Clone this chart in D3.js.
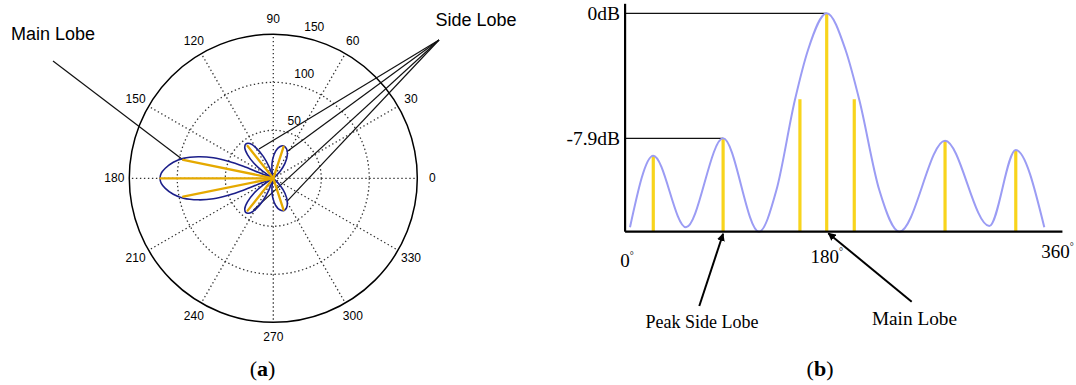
<!DOCTYPE html>
<html>
<head>
<meta charset="utf-8">
<script src="https://cdn.jsdelivr.net/npm/d3@7"></script>
<style>
  body { margin: 0; background: #fff; }
  svg { display: block; }
</style>
</head>
<body>
<svg id="chart" width="1076" height="385"></svg>
<script>
// ---------- (a) polar pattern : [angle in degrees, radius 0..150]
const ringValues = [50, 100, 150];
const spokeAngles = [0, 30, 60, 90, 120, 150, 180, 210, 240, 270, 300, 330];
const radialLabels = [50, 100, 150];

const mainLobe = [[158, 0], [158.2, 16.9], [158.2, 33.6], [159.3, 50.1], [161.1, 66], [164, 81.3],
  [167.5, 96], [170.9, 105.5], [174.7, 113], [177.4, 116.8], [180, 118], [182.6, 116.8],
  [185.3, 113], [189.1, 105.5], [192.5, 96], [196, 81.3], [198.9, 66], [200.7, 50.1],
  [201.8, 33.6], [201.8, 16.9], [202, 0]];
const lobeUpperLeft = [[106.5, 0], [110.5, 12.9], [114.5, 24.8], [119.5, 36.5], [124, 43.6], [128.5, 45.8],
  [133, 43.6], [137.5, 36.5], [142.5, 24.8], [146.5, 12.9], [150.5, 0]];
const lobeLowerLeft = [[209.5, 0], [213.5, 12.9], [217.5, 24.8], [222.5, 36.5], [227, 43.6], [231.5, 45.8],
  [236, 43.6], [240.5, 36.5], [245.5, 24.8], [249.5, 12.9], [253.5, 0]];
const lobeUpperRight = [[40, 0], [46, 10.3], [52, 19.7], [59, 28.4], [65.5, 33.5], [72, 35.4],
  [78.5, 33.5], [85, 28.4], [92, 19.7], [98, 10.3], [104, 0]];
const lobeLowerRight = [[256, 0], [262, 10.3], [268, 19.7], [275, 28.4], [281.5, 33.5], [288, 35.4],
  [294.5, 33.5], [301, 28.4], [308, 19.7], [314, 10.3], [320, 0]];

const mainSpokes = [[168.5, 95.8], [180, 117.7], [191.5, 95.8]];
const sideSpokes = [[128.5, 43], [72, 34.5], [231.5, 43], [288, 34.5]];
const sideLobeTargets = [[116, 34], [63, 31], [238, 39], [300, 28]];

// ---------- (b) linear pattern : angle (deg) vs level (dB)
const patternDeg = [0, 21.3, 51.2, 85.2, 118, 134, 150.9, 162.9, 180, 195.6, 207, 223.5, 240.1, 277.9, 314.5, 336.4, 360];
const patternDb  = [-13.52, -9.0, -13.52, -7.9, -13.8, -11.17, -5.48, -2.32, 0, -2.32, -5.48, -11.17, -13.8, -8.05, -13.44, -8.64, -13.52];
const barDeg = [21.3, 85.2, 155.5, 180, 202.8, 277.9, 336.4];
const barDb  = [-9.0, -7.9, -5.43, 0, -5.43, -8.05, -8.64];
const xTicks = [0, 180, 360];
const levelTicks = [0, -7.9];
const levelPeakDeg = [180, 85.2];

const svg = d3.select("#chart");

// ================= (a) =================
const cx = 273.3, cy = 178.3;
const r = d3.scaleLinear().domain([0, 150]).range([0, 144]);
const rad = a => a * Math.PI / 180;
const px = (a, v) => cx + r(v) * Math.cos(rad(a));
const py = (a, v) => cy - r(v) * Math.sin(rad(a));

const polar = svg.append("g").attr("class", "polar");

polar.selectAll(".ring")
  .data(ringValues)
  .enter().append("circle")
    .attr("cx", cx).attr("cy", cy)
    .attr("r", d => r(d))
    .attr("fill", "none")
    .attr("stroke", d => d === 150 ? "#000" : "#333")
    .attr("stroke-width", d => d === 150 ? 1.5 : 1.3)
    .attr("stroke-dasharray", d => d === 150 ? null : "1.4 2.6");

polar.selectAll(".spoke")
  .data(spokeAngles)
  .enter().append("line")
    .attr("x1", cx).attr("y1", cy)
    .attr("x2", d => px(d, 150)).attr("y2", d => py(d, 150))
    .attr("stroke", "#333")
    .attr("stroke-width", 1.3)
    .attr("stroke-dasharray", "1.4 2.6");

polar.selectAll(".alabel")
  .data(spokeAngles)
  .enter().append("text")
    .attr("x", d => cx + (r(150) + 15) * Math.cos(rad(d)))
    .attr("y", d => cy - (r(150) + 15) * Math.sin(rad(d)))
    .attr("text-anchor", "middle")
    .attr("dominant-baseline", "central")
    .style("font", "12px 'Liberation Sans', Arial, sans-serif")
    .text(d => d);

polar.selectAll(".rlabel")
  .data(radialLabels)
  .enter().append("text")
    .attr("x", d => px(78, d) + 11)
    .attr("y", d => py(78, d) - 10)
    .attr("text-anchor", "middle")
    .attr("dominant-baseline", "central")
    .style("font", "12px 'Liberation Sans', Arial, sans-serif")
    .text(d => d);

// annotation lines (under the pattern)
const sideApex = [439, 40];
polar.selectAll(".sidePointer")
  .data(sideLobeTargets)
  .enter().append("line")
    .attr("x1", sideApex[0]).attr("y1", sideApex[1])
    .attr("x2", d => px(d[0], d[1])).attr("y2", d => py(d[0], d[1]))
    .attr("stroke", "#111").attr("stroke-width", 1.2);

polar.append("line")
  .attr("x1", 53).attr("y1", 61)
  .attr("x2", px(mainSpokes[0][0], mainSpokes[0][1]))
  .attr("y2", py(mainSpokes[0][0], mainSpokes[0][1]))
  .attr("stroke", "#111").attr("stroke-width", 1.2);

// pattern outline
const lobeLine = d3.lineRadial()
  .angle(d => rad(90 - d[0]))
  .radius(d => r(d[1]))
  .curve(d3.curveCatmullRom);

const pattern = polar.append("g").attr("transform", `translate(${cx},${cy})`);
pattern.selectAll(".lobe")
  .data([mainLobe, lobeUpperLeft, lobeLowerLeft, lobeUpperRight, lobeLowerRight])
  .enter().append("path")
    .attr("d", lobeLine)
    .attr("fill", "none")
    .attr("stroke", "#1c1f8a")
    .attr("stroke-width", 1.6);

polar.selectAll(".yspoke")
  .data(mainSpokes.concat(sideSpokes))
  .enter().append("line")
    .attr("x1", cx).attr("y1", cy)
    .attr("x2", d => px(d[0], d[1])).attr("y2", d => py(d[0], d[1]))
    .attr("stroke", "#e5a900")
    .attr("stroke-width", 2.3)
    .attr("stroke-linecap", "round");

polar.append("text")
  .attr("x", 11).attr("y", 40)
  .style("font", "18px 'Liberation Sans', Arial, sans-serif")
  .text("Main Lobe");
polar.append("text")
  .attr("x", 435.5).attr("y", 26)
  .style("font", "18px 'Liberation Sans', Arial, sans-serif")
  .text("Side Lobe");

// ================= (b) =================
const x = d3.scaleLinear().domain([0, 180, 360]).range([630, 826.7, 1044.3]);
const y = d3.scaleLinear().domain([-13.8, 0]).range([231.7, 13.3]);

const lin = svg.append("g").attr("class", "linear");
const serif = "'Liberation Serif', 'Times New Roman', serif";

// level guide lines
lin.selectAll(".level")
  .data(levelTicks)
  .enter().append("line")
    .attr("x1", x(-4.5)).attr("x2", (d, i) => x(levelPeakDeg[i]))
    .attr("y1", d => y(d)).attr("y2", d => y(d))
    .attr("stroke", "#111").attr("stroke-width", 1.3);

lin.selectAll(".levelLabel")
  .data(levelTicks)
  .enter().append("text")
    .attr("x", x(-4.5) - 5)
    .attr("y", d => y(d) + 7)
    .attr("text-anchor", "end")
    .style("font", `19.5px ${serif}`)
    .text(d => d + "dB");

// yellow bars
lin.selectAll(".bar")
  .data(barDeg)
  .enter().append("line")
    .attr("x1", d => x(d)).attr("x2", d => x(d))
    .attr("y1", y(-13.8)).attr("y2", (d, i) => y(barDb[i]))
    .attr("stroke", "#f8d41c")
    .attr("stroke-width", 3.2);

// curve
const patternPts = patternDeg.map((d, i) => [d, patternDb[i]]);
lin.append("path")
  .datum(patternPts)
  .attr("d", d3.line().x(d => x(d[0])).y(d => y(d[1])).curve(d3.curveMonotoneX))
  .attr("fill", "none")
  .attr("stroke", "#9b9cf4")
  .attr("stroke-width", 2);

// axes
lin.append("line")
  .attr("x1", x(-4.5)).attr("x2", x(-4.5))
  .attr("y1", y(0.6)).attr("y2", y(-13.8))
  .attr("stroke", "#000").attr("stroke-width", 2.2);
lin.append("line")
  .attr("x1", x(-4.5)).attr("x2", x(375))
  .attr("y1", y(-13.8)).attr("y2", y(-13.8))
  .attr("stroke", "#000").attr("stroke-width", 2.2);

const tickAnchor = ["middle", "middle", "start"];
const tickDx = [-3, 0, -3];
const tickDy = [28, 24, 19];
const ticks = lin.selectAll(".xtick")
  .data(xTicks)
  .enter().append("text")
    .attr("x", (d, i) => x(d) + tickDx[i])
    .attr("y", (d, i) => y(-13.8) + tickDy[i] + 7)
    .attr("text-anchor", (d, i) => tickAnchor[i])
    .style("font", `19px ${serif}`);
ticks.append("tspan").text(d => d);
ticks.append("tspan").attr("dy", -8).style("font-size", "10px").text("°");

// arrows
const defs = svg.append("defs");
defs.append("marker")
  .attr("id", "arrow")
  .attr("viewBox", "0 0 10 10")
  .attr("refX", 9).attr("refY", 5)
  .attr("markerWidth", 4).attr("markerHeight", 4)
  .attr("orient", "auto")
  .append("path").attr("d", "M0,0L10,5L0,10z").attr("fill", "#000");

lin.append("line")
  .attr("x1", 699.3).attr("y1", 306)
  .attr("x2", x(levelPeakDeg[1])).attr("y2", y(-13.8) + 2)
  .attr("stroke", "#000").attr("stroke-width", 2)
  .attr("marker-end", "url(#arrow)");
lin.append("line")
  .attr("x1", 911.7).attr("y1", 301.7)
  .attr("x2", x(levelPeakDeg[0]) + 1.6).attr("y2", y(-13.8) + 1.5)
  .attr("stroke", "#000").attr("stroke-width", 2)
  .attr("marker-end", "url(#arrow)");

lin.append("text")
  .attr("x", 702).attr("y", 328)
  .attr("text-anchor", "middle")
  .style("font", `18px ${serif}`)
  .text("Peak Side Lobe");
lin.append("text")
  .attr("x", 914.5).attr("y", 325)
  .attr("text-anchor", "middle")
  .style("font", `19.3px ${serif}`)
  .text("Main Lobe");

// ---------- captions
const captions = [["a", 262.5], ["b", 820]];
const cap = svg.selectAll(".caption")
  .data(captions)
  .enter().append("text")
    .attr("x", d => d[1]).attr("y", 376)
    .attr("text-anchor", "middle")
    .style("font", `22px ${serif}`);
cap.append("tspan").text("(");
cap.append("tspan").style("font-weight", "bold").text(d => d[0]);
cap.append("tspan").text(")");
</script>
</body>
</html>
